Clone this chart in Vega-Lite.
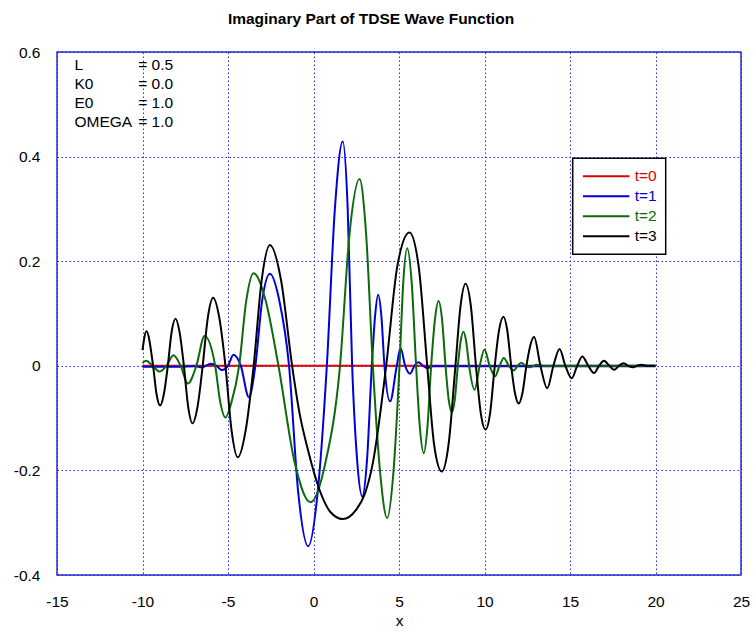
{
  "$schema": "https://vega.github.io/schema/vega-lite/v6.json",
  "width": 684,
  "height": 523,
  "autosize": {"type": "none"},
  "padding": {"left": 57, "top": 52, "right": 14, "bottom": 58},
  "background": "white",
  "title": {"text": "Imaginary Part of TDSE Wave Function", "fontSize": 15.5, "font": "Liberation Sans", "fontWeight": "bold", "anchor": "middle", "frame": "group", "dx": -28, "offset": 18, "color": "black"},
  "config": {"view": {"stroke": "#2a2ad8", "strokeWidth": 1.5}, "font": "Liberation Sans"},
  "datasets": {
    "curves": [
      {"s": "t=0", "x": -10, "y": 0}, {"s": "t=0", "x": 20, "y": 0},

      {"s": "t=1", "x": -10, "y": -0.002}, {"s": "t=1", "x": -8, "y": -0.002}, {"s": "t=1", "x": -6.9, "y": -0.001},
      {"s": "t=1", "x": -6.55, "y": -0.003}, {"s": "t=1", "x": -6.0, "y": 0.004}, {"s": "t=1", "x": -5.68, "y": 0},
      {"s": "t=1", "x": -5.36, "y": -0.008}, {"s": "t=1", "x": -5.0, "y": 0}, {"s": "t=1", "x": -4.68, "y": 0.021},
      {"s": "t=1", "x": -4.25, "y": 0}, {"s": "t=1", "x": -3.78, "y": -0.06}, {"s": "t=1", "x": -3.4, "y": 0},
      {"s": "t=1", "x": -3.0, "y": 0.125}, {"s": "t=1", "x": -2.55, "y": 0.176}, {"s": "t=1", "x": -2.0, "y": 0.125},
      {"s": "t=1", "x": -1.43, "y": 0}, {"s": "t=1", "x": -0.9, "y": -0.24}, {"s": "t=1", "x": -0.31, "y": -0.345},
      {"s": "t=1", "x": 0.25, "y": -0.24}, {"s": "t=1", "x": 0.78, "y": 0}, {"s": "t=1", "x": 1.25, "y": 0.3},
      {"s": "t=1", "x": 1.71, "y": 0.429}, {"s": "t=1", "x": 2.0, "y": 0.3}, {"s": "t=1", "x": 2.26, "y": 0},
      {"s": "t=1", "x": 2.55, "y": -0.18}, {"s": "t=1", "x": 2.85, "y": -0.25}, {"s": "t=1", "x": 3.13, "y": -0.18},
      {"s": "t=1", "x": 3.41, "y": 0}, {"s": "t=1", "x": 3.6, "y": 0.095}, {"s": "t=1", "x": 3.78, "y": 0.136},
      {"s": "t=1", "x": 3.97, "y": 0.095}, {"s": "t=1", "x": 4.15, "y": 0}, {"s": "t=1", "x": 4.48, "y": -0.068},
      {"s": "t=1", "x": 4.87, "y": 0}, {"s": "t=1", "x": 5.09, "y": 0.034}, {"s": "t=1", "x": 5.36, "y": 0},
      {"s": "t=1", "x": 5.65, "y": -0.015}, {"s": "t=1", "x": 5.9, "y": 0}, {"s": "t=1", "x": 6.14, "y": 0.007},
      {"s": "t=1", "x": 6.4, "y": 0}, {"s": "t=1", "x": 6.63, "y": -0.0045}, {"s": "t=1", "x": 7.0, "y": -0.001},
      {"s": "t=1", "x": 20, "y": -0.001},

      {"s": "t=2", "x": -10, "y": 0.005}, {"s": "t=2", "x": -9.8, "y": 0.0096}, {"s": "t=2", "x": -9.4, "y": 0},
      {"s": "t=2", "x": -9.0, "y": -0.011}, {"s": "t=2", "x": -8.6, "y": 0}, {"s": "t=2", "x": -8.19, "y": 0.02},
      {"s": "t=2", "x": -7.77, "y": 0}, {"s": "t=2", "x": -7.35, "y": -0.034}, {"s": "t=2", "x": -6.85, "y": 0},
      {"s": "t=2", "x": -6.37, "y": 0.057}, {"s": "t=2", "x": -5.75, "y": 0}, {"s": "t=2", "x": -5.45, "y": -0.07},
      {"s": "t=2", "x": -5.15, "y": -0.099}, {"s": "t=2", "x": -4.8, "y": -0.07}, {"s": "t=2", "x": -4.35, "y": 0},
      {"s": "t=2", "x": -3.93, "y": 0.125}, {"s": "t=2", "x": -3.51, "y": 0.177}, {"s": "t=2", "x": -2.8, "y": 0.125},
      {"s": "t=2", "x": -2.05, "y": 0}, {"s": "t=2", "x": -1.1, "y": -0.185}, {"s": "t=2", "x": -0.18, "y": -0.261},
      {"s": "t=2", "x": 0.7, "y": -0.185}, {"s": "t=2", "x": 1.55, "y": 0}, {"s": "t=2", "x": 2.1, "y": 0.25},
      {"s": "t=2", "x": 2.69, "y": 0.357}, {"s": "t=2", "x": 3.08, "y": 0.25}, {"s": "t=2", "x": 3.47, "y": 0},
      {"s": "t=2", "x": 3.9, "y": -0.205}, {"s": "t=2", "x": 4.31, "y": -0.291}, {"s": "t=2", "x": 4.67, "y": -0.205},
      {"s": "t=2", "x": 5.03, "y": 0}, {"s": "t=2", "x": 5.25, "y": 0.16}, {"s": "t=2", "x": 5.48, "y": 0.225},
      {"s": "t=2", "x": 5.74, "y": 0.16}, {"s": "t=2", "x": 6.0, "y": 0}, {"s": "t=2", "x": 6.22, "y": -0.118},
      {"s": "t=2", "x": 6.45, "y": -0.167}, {"s": "t=2", "x": 6.66, "y": -0.118}, {"s": "t=2", "x": 6.88, "y": 0},
      {"s": "t=2", "x": 7.1, "y": 0.088}, {"s": "t=2", "x": 7.31, "y": 0.124}, {"s": "t=2", "x": 7.52, "y": 0.088},
      {"s": "t=2", "x": 7.72, "y": 0}, {"s": "t=2", "x": 7.9, "y": -0.063}, {"s": "t=2", "x": 8.09, "y": -0.089},
      {"s": "t=2", "x": 8.27, "y": -0.063}, {"s": "t=2", "x": 8.44, "y": 0}, {"s": "t=2", "x": 8.6, "y": 0.046},
      {"s": "t=2", "x": 8.77, "y": 0.065}, {"s": "t=2", "x": 8.93, "y": 0.046}, {"s": "t=2", "x": 9.1, "y": 0},
      {"s": "t=2", "x": 9.42, "y": -0.046}, {"s": "t=2", "x": 9.72, "y": 0}, {"s": "t=2", "x": 10.0, "y": 0.031},
      {"s": "t=2", "x": 10.3, "y": 0}, {"s": "t=2", "x": 10.62, "y": -0.02}, {"s": "t=2", "x": 10.88, "y": 0},
      {"s": "t=2", "x": 11.13, "y": 0.015}, {"s": "t=2", "x": 11.42, "y": 0}, {"s": "t=2", "x": 11.71, "y": -0.009},
      {"s": "t=2", "x": 11.93, "y": 0}, {"s": "t=2", "x": 12.15, "y": 0.006}, {"s": "t=2", "x": 12.4, "y": 0},
      {"s": "t=2", "x": 12.63, "y": -0.003}, {"s": "t=2", "x": 13.06, "y": 0.002}, {"s": "t=2", "x": 13.5, "y": 0},
      {"s": "t=2", "x": 20, "y": 0},

      {"s": "t=3", "x": -10, "y": 0.03}, {"s": "t=3", "x": -9.77, "y": 0.066}, {"s": "t=3", "x": -9.38, "y": 0},
      {"s": "t=3", "x": -9.18, "y": -0.054}, {"s": "t=3", "x": -8.97, "y": -0.076}, {"s": "t=3", "x": -8.75, "y": -0.054},
      {"s": "t=3", "x": -8.52, "y": 0}, {"s": "t=3", "x": -8.3, "y": 0.064}, {"s": "t=3", "x": -8.07, "y": 0.09},
      {"s": "t=3", "x": -7.83, "y": 0.064}, {"s": "t=3", "x": -7.58, "y": 0}, {"s": "t=3", "x": -7.33, "y": -0.078},
      {"s": "t=3", "x": -7.08, "y": -0.11}, {"s": "t=3", "x": -6.78, "y": -0.078}, {"s": "t=3", "x": -6.48, "y": 0},
      {"s": "t=3", "x": -6.18, "y": 0.092}, {"s": "t=3", "x": -5.87, "y": 0.13}, {"s": "t=3", "x": -5.51, "y": 0.092},
      {"s": "t=3", "x": -5.15, "y": 0}, {"s": "t=3", "x": -4.79, "y": -0.124}, {"s": "t=3", "x": -4.43, "y": -0.175},
      {"s": "t=3", "x": -3.97, "y": -0.124}, {"s": "t=3", "x": -3.5, "y": 0}, {"s": "t=3", "x": -3.03, "y": 0.164},
      {"s": "t=3", "x": -2.55, "y": 0.231}, {"s": "t=3", "x": -1.9, "y": 0.164}, {"s": "t=3", "x": -1.25, "y": 0},
      {"s": "t=3", "x": -0.82, "y": -0.09}, {"s": "t=3", "x": -0.33, "y": -0.16}, {"s": "t=3", "x": 0.35, "y": -0.237},
      {"s": "t=3", "x": 1.0, "y": -0.28}, {"s": "t=3", "x": 1.7, "y": -0.293}, {"s": "t=3", "x": 2.5, "y": -0.275},
      {"s": "t=3", "x": 3.0, "y": -0.245}, {"s": "t=3", "x": 3.47, "y": -0.186}, {"s": "t=3", "x": 4.25, "y": 0},
      {"s": "t=3", "x": 4.9, "y": 0.19}, {"s": "t=3", "x": 5.61, "y": 0.255}, {"s": "t=3", "x": 6.15, "y": 0.19},
      {"s": "t=3", "x": 6.65, "y": 0}, {"s": "t=3", "x": 7.05, "y": -0.15}, {"s": "t=3", "x": 7.5, "y": -0.202},
      {"s": "t=3", "x": 7.9, "y": -0.15}, {"s": "t=3", "x": 8.3, "y": 0}, {"s": "t=3", "x": 8.6, "y": 0.115},
      {"s": "t=3", "x": 8.89, "y": 0.157}, {"s": "t=3", "x": 9.2, "y": 0.115}, {"s": "t=3", "x": 9.5, "y": 0},
      {"s": "t=3", "x": 9.78, "y": -0.09}, {"s": "t=3", "x": 10.06, "y": -0.122}, {"s": "t=3", "x": 10.33, "y": -0.09},
      {"s": "t=3", "x": 10.6, "y": 0}, {"s": "t=3", "x": 10.85, "y": 0.068}, {"s": "t=3", "x": 11.11, "y": 0.094},
      {"s": "t=3", "x": 11.33, "y": 0.068}, {"s": "t=3", "x": 11.56, "y": 0}, {"s": "t=3", "x": 11.78, "y": -0.052},
      {"s": "t=3", "x": 12.0, "y": -0.072}, {"s": "t=3", "x": 12.22, "y": -0.052}, {"s": "t=3", "x": 12.45, "y": 0},
      {"s": "t=3", "x": 12.9, "y": 0.055}, {"s": "t=3", "x": 13.27, "y": 0}, {"s": "t=3", "x": 13.67, "y": -0.043},
      {"s": "t=3", "x": 14.03, "y": 0}, {"s": "t=3", "x": 14.39, "y": 0.032}, {"s": "t=3", "x": 14.73, "y": 0},
      {"s": "t=3", "x": 15.1, "y": -0.024}, {"s": "t=3", "x": 15.42, "y": 0}, {"s": "t=3", "x": 15.72, "y": 0.018},
      {"s": "t=3", "x": 16.07, "y": 0}, {"s": "t=3", "x": 16.4, "y": -0.014}, {"s": "t=3", "x": 16.7, "y": 0},
      {"s": "t=3", "x": 16.98, "y": 0.0096}, {"s": "t=3", "x": 17.3, "y": 0}, {"s": "t=3", "x": 17.58, "y": -0.0077},
      {"s": "t=3", "x": 17.86, "y": 0}, {"s": "t=3", "x": 18.13, "y": 0.005}, {"s": "t=3", "x": 18.4, "y": 0},
      {"s": "t=3", "x": 18.67, "y": -0.003}, {"s": "t=3", "x": 18.9, "y": 0}, {"s": "t=3", "x": 19.16, "y": 0.002},
      {"s": "t=3", "x": 19.5, "y": 0}, {"s": "t=3", "x": 20, "y": 0}
    ],
    "notes": [
      {"name": "L", "val": "= 0.5", "y": 0.5746},
      {"name": "K0", "val": "= 0.0", "y": 0.5382},
      {"name": "E0", "val": "= 1.0", "y": 0.5023},
      {"name": "OMEGA", "val": "= 1.0", "y": 0.4665}
    ]
  },
  "layer": [
    {
      "data": {"name": "curves"},
      "mark": {"type": "line", "interpolate": "monotone", "strokeWidth": 2},
      "encoding": {
        "x": {"field": "x", "type": "quantitative",
          "scale": {"domain": [-15, 25], "nice": false, "zero": false},
          "axis": {"values": [-15, -10, -5, 0, 5, 10, 15, 20, 25], "title": "x", "grid": true,
            "gridColor": "#2020e0", "gridDash": [1.5, 2.5], "gridOpacity": 0.95, "gridWidth": 1,
            "domain": false, "ticks": false, "labelPadding": 19, "labelFontSize": 15.5, "labelColor": "black",
            "labelFont": "Liberation Sans", "labelFlush": false, "labelOverlap": false,
            "labelExpr": "datum.value < 0 ? '-' + format(-datum.value, '~g') : format(datum.value, '~g')",
            "titleFontSize": 15.5, "titleFontWeight": "normal", "titleFont": "Liberation Sans", "titleColor": "black", "titlePadding": 4}},
        "y": {"field": "y", "type": "quantitative",
          "scale": {"domain": [-0.4, 0.6], "nice": false, "zero": false},
          "axis": {"values": [-0.4, -0.2, 0, 0.2, 0.4, 0.6], "title": null, "grid": true,
            "gridColor": "#2020e0", "gridDash": [1.5, 2.5], "gridOpacity": 0.95, "gridWidth": 1,
            "domain": false, "ticks": false, "labelPadding": 17, "labelFontSize": 15.5, "labelColor": "black",
            "labelFont": "Liberation Sans", "labelFlush": false, "labelOverlap": false,
            "labelExpr": "datum.value < 0 ? '-' + format(-datum.value, '~g') : format(datum.value, '~g')"}},
        "color": {"field": "s", "type": "nominal",
          "scale": {"domain": ["t=0", "t=1", "t=2", "t=3"], "range": ["#e00000", "#0000dd", "#0b6b0b", "#000000"]},
          "legend": {"title": null, "orient": "none", "legendX": 515.7, "legendY": 106.3,
            "symbolType": "M-1,0H5", "symbolSize": 240, "symbolStrokeWidth": 2,
            "labelFontSize": 15.5, "labelFont": "Liberation Sans", "labelOffset": 35,
            "padding": 9, "rowPadding": 2, "strokeColor": "black", "fillColor": "white",
            "encode": {
              "labels": {"update": {"fill": {"signal": "datum.value === 't=0' ? '#e00000' : datum.value === 't=1' ? '#0000dd' : datum.value === 't=2' ? '#0b6b0b' : '#000000'"}}},
              "legend": {"update": {"strokeWidth": {"value": 1.5}}}
            }}}
      }
    },
    {
      "data": {"name": "notes"},
      "mark": {"type": "text", "align": "left", "baseline": "middle", "fontSize": 15.5, "font": "Liberation Sans", "color": "black"},
      "encoding": {"x": {"datum": -13.98}, "y": {"field": "y", "type": "quantitative"}, "text": {"field": "name"}}
    },
    {
      "data": {"name": "notes"},
      "mark": {"type": "text", "align": "left", "baseline": "middle", "fontSize": 15.5, "font": "Liberation Sans", "color": "black"},
      "encoding": {"x": {"datum": -10.25}, "y": {"field": "y", "type": "quantitative"}, "text": {"field": "val"}}
    }
  ]
}
